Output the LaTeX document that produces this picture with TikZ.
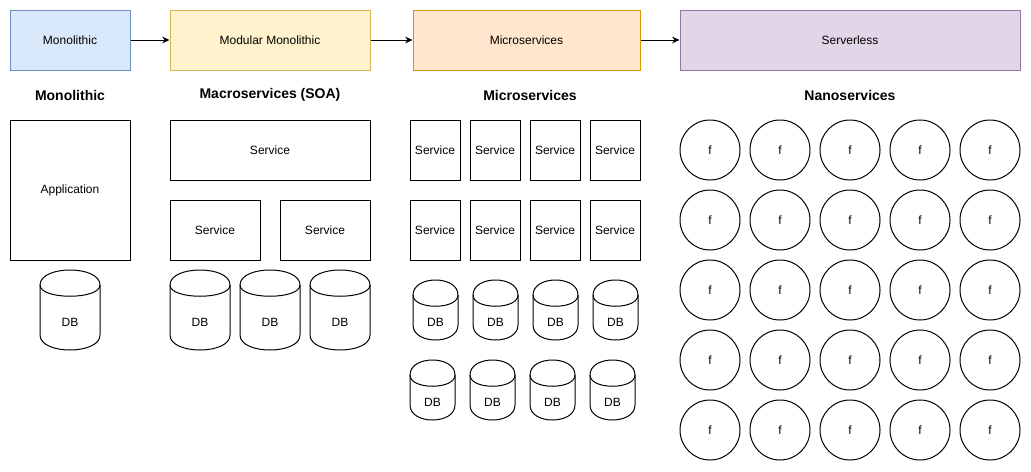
\documentclass[tikz,border=0pt]{standalone}
\usepackage{fontspec}
\setmainfont{Liberation Sans}
\usetikzlibrary{arrows.meta}
\definecolor{blueF}{HTML}{DAE8FC}\definecolor{blueD}{HTML}{6C8EBF}
\definecolor{yelF}{HTML}{FFF2CC}\definecolor{yelD}{HTML}{D6B656}
\definecolor{orF}{HTML}{FFE6CC}\definecolor{orD}{HTML}{D79B00}
\definecolor{purF}{HTML}{E1D5E7}\definecolor{purD}{HTML}{9673A6}
\tikzset{
  sz/.style 2 args={minimum width=#1*0.75pt, minimum height=#2*0.75pt},
  box/.style={draw, line width=0.75pt, inner sep=0pt, font=\fontsize{9}{11}\selectfont, rectangle},
  stage/.style={box, fill=#1F, draw=#1D},
  head/.style={font=\fontsize{10.5}{12}\bfseries\selectfont, inner sep=0pt},
  fn/.style={circle, draw, line width=0.75pt, inner sep=0pt, minimum size=45pt, font=\fontsize{9}{11}\selectfont},
  cylline/.style={draw, line width=0.75pt, line join=round},
  dbtext/.style={inner sep=0pt, font=\fontsize{9}{11}\selectfont},
  flow/.style={draw, line width=0.75pt, -{Stealth[length=5.5pt,width=5pt]}}
}
\newcommand\dbcyl[5]{%
  \path[cylline] (#2,#3+15) .. controls (#2,#3-5) and (#2+#4,#3-5) .. (#2+#4,#3+15)
    -- (#2+#4,#3+#5-15) .. controls (#2+#4,#3+#5+5) and (#2,#3+#5+5) .. (#2,#3+#5-15) -- cycle;
  \path[cylline] (#2,#3+15) .. controls (#2,#3+30) and (#2+#4,#3+30) .. (#2+#4,#3+15);
  \node[dbtext] (#1) at (#2+#4/2,#3+#5/2+12.5) {DB};%
}
\begin{document}
\begin{tikzpicture}[x=0.75pt,y=-0.75pt]
\useasboundingbox (0,0) rectangle (1031,471);
% top stages
\node[stage=blue, sz={120}{60}] (s1) at (70,40) {Monolithic};
\node[stage=yel, sz={200}{60}] (s2) at (270,40) {Modular Monolithic};
\node[stage=or, sz={227}{60}] (s3) at (526.5,40) {Microservices};
\node[stage=pur, sz={340}{60}] (s4) at (850,40) {Serverless};
\draw[flow] (s1) -- (s2);
\draw[flow] (s2) -- (s3);
\draw[flow] (s3) -- (s4);
% headings
\node[head] (h1) at (70,95) {Monolithic};
\node[head] (h2) at (270,95) {Macroservices (SOA)};
\node[head] (h3) at (530,95) {Microservices};
\node[head] (h4) at (850,95) {Nanoservices};
% monolithic
\node[box, sz={120}{140}] (app) at (70,190) {Application};
\dbcyl{db0}{40}{270}{60}{80}
% macroservices
\node[box, sz={200}{60}] (ms1) at (270,150) {Service};
\node[box, sz={90}{60}] (ms2) at (215,230) {Service};
\node[box, sz={90}{60}] (ms3) at (325,230) {Service};
\dbcyl{mdb1}{170}{270}{60}{80}
\dbcyl{mdb2}{240}{270}{60}{80}
\dbcyl{mdb3}{310}{270}{60}{80}
% microservices
\foreach \i in {0,1,2,3}{
  \node[box, sz={50}{60}] (mi1\i) at (435+60*\i,150) {Service};
  \node[box, sz={50}{60}] (mi2\i) at (435+60*\i,230) {Service};
  \dbcyl{midba\i}{413+60*\i}{280}{45}{60}
  \dbcyl{midbb\i}{410+60*\i}{360}{45}{60}
}
% nanoservices
\foreach \r in {0,...,4}{
  \foreach \c in {0,...,4}{
    \node[fn] (f\r\c) at (710+70*\c,150+70*\r) {f};
  }
}
\end{tikzpicture}
\end{document}
